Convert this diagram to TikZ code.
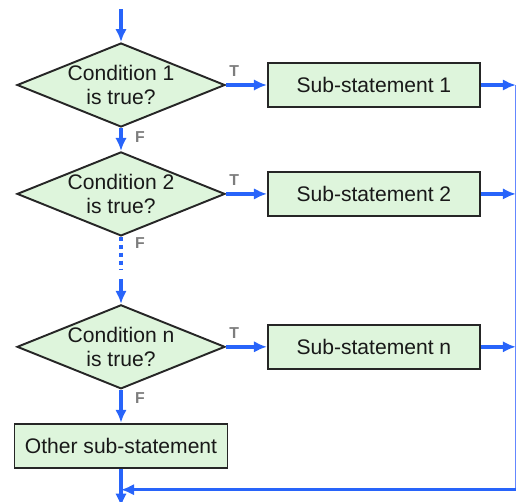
\documentclass[tikz,border=0pt]{standalone}
\usepackage{fontspec}
\setmainfont{Liberation Sans}
\usetikzlibrary{arrows.meta,positioning,shapes.geometric}
\definecolor{FlowBlue}{RGB}{40,100,250}
\definecolor{RailBlue}{RGB}{100,135,255}
\definecolor{PaleGreen}{RGB}{222,245,220}
\definecolor{FlagGray}{RGB}{125,125,125}

\begin{document}
\begin{tikzpicture}[x=0.02cm,y=-0.02cm,>={Latex[length=2.6mm,width=2.3mm]},every node/.style={font=\fontsize{12}{14}\selectfont,text=black!90}]
\tikzset{cond/.style={diamond,draw=black!85,line width=1.1pt,fill=PaleGreen,aspect=2.5,inner sep=-3pt,minimum width=4.16cm,minimum height=1.68cm,align=center},
  stmt/.style={draw=black!85,line width=1.1pt,fill=PaleGreen,minimum width=4.24cm,minimum height=0.88cm},
  flow/.style={->,FlowBlue,line width=2pt},
  flag/.style={font=\fontsize{9}{10}\selectfont\bfseries,text=FlagGray,inner sep=1pt}}
\useasboundingbox (0,0) rectangle (516,501);
\node[cond] (c1) at (121,85) {Condition 1\\is true?};
\node[cond,below=0.46cm of c1] (c2) {Condition 2\\is true?};
\node[cond,below=1.34cm of c2] (cn) {Condition n\\is true?};
\node[stmt,minimum width=4.26cm,below=0.66cm of cn] (other) {Other sub-statement};
\node[stmt,right=0.82cm of c1] (s1) {Sub-statement 1};
\node[stmt,right=0.82cm of c2] (s2) {Sub-statement 2};
\node[stmt,right=0.82cm of cn] (sn) {Sub-statement n};
\coordinate[above=0.66cm of c1] (start);
\coordinate[below=0.64cm of c2] (d1);
\coordinate[above=0.5cm of cn] (d2);
\coordinate[below=0.42cm of other] (join);
\coordinate[below=0.76cm of other] (finish);
\coordinate[right=0.7cm of s1] (r1);
\coordinate[right=0.7cm of s2] (r2);
\coordinate[right=0.7cm of sn] (rn);
\coordinate (rb) at (r1 |- join);
\draw[flow] (start) -- (c1);
\draw[flow] (c1) -- node[flag,right=6pt,pos=0.4]{F} (c2);
\draw[FlowBlue,line width=2pt,dash pattern=on 2.5pt off 2pt] (c2) -- node[flag,right=6pt,pos=0.2]{F} (d1);
\draw[flow] (d2) -- (cn);
\draw[flow] (cn) -- node[flag,right=6pt,pos=0.25]{F} (other);
\draw[flow] (c1) -- node[flag,pos=0,above right={3pt and 0pt}]{T} (s1);
\draw[flow] (c2) -- node[flag,pos=0,above right={3pt and 0pt}]{T} (s2);
\draw[flow] (cn) -- node[flag,pos=0,above right={3pt and 0pt}]{T} (sn);
\draw[flow] (s1) -- (r1);
\draw[flow] (s2) -- (r2);
\draw[flow] (sn) -- (rn);
\draw[RailBlue,line width=0.8pt] (r1) -- (rb);
\draw[flow] (rb) -- (join);
\draw[flow] (other) -- (finish);
\end{tikzpicture}
\end{document}
